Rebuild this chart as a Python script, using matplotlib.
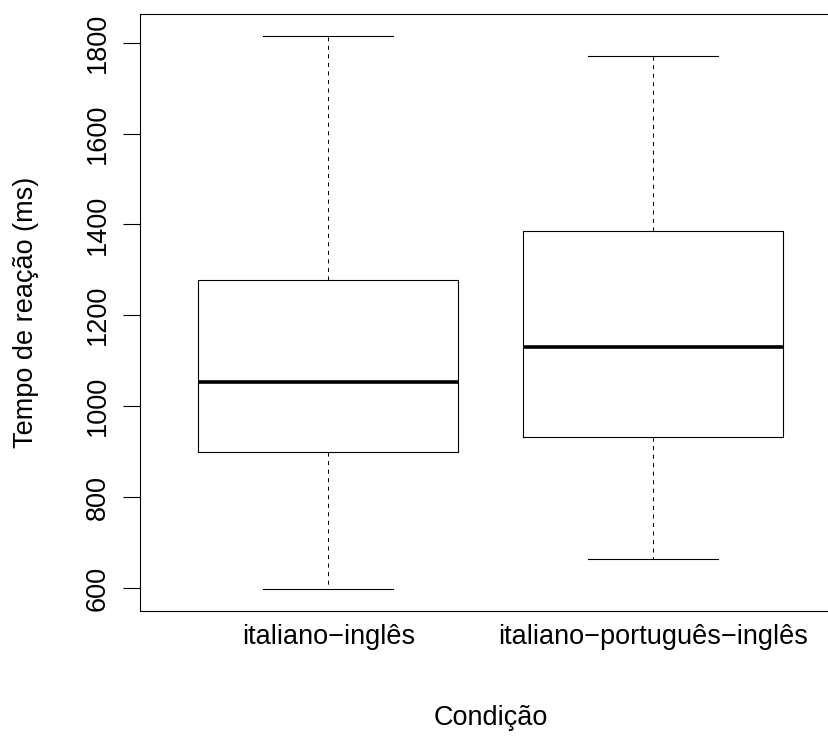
import matplotlib
matplotlib.use("Agg")
import matplotlib.pyplot as plt

# Data
categories = ["italiano\u2212inglês", "italiano\u2212português\u2212inglês"]
whislo = [598, 664]
q1 = [899, 932]
med = [1053, 1131]
q3 = [1278, 1386]
whishi = [1815, 1771]
yticks = [600, 800, 1000, 1200, 1400, 1600, 1800]

plt.rcParams['font.family'] = ['Liberation Sans', 'DejaVu Sans']

W, H = 829, 742
fig = plt.figure(figsize=(W / 100, H / 100), dpi=100)
left, right, top, bottom = 140, 841, 13.7, 611
ax = fig.add_axes([left / W, (H - bottom) / H, (right - left) / W, (bottom - top) / H])

stats = []
for i in range(len(categories)):
    stats.append(dict(label=categories[i], whislo=whislo[i], q1=q1[i], med=med[i],
                      q3=q3[i], whishi=whishi[i], fliers=[]))

positions = list(range(1, len(categories) + 1))
ax.bxp(stats, positions=positions, widths=0.8, capwidths=0.4, showfliers=False,
       boxprops=dict(color='black', lw=0.8),
       whiskerprops=dict(color='black', lw=0.75, linestyle=(0, (3.9, 4.3))),
       capprops=dict(color='black', lw=0.8),
       medianprops=dict(color='black', lw=2.6, solid_capstyle='butt'))

dmin, dmax = min(whislo), max(whishi)
ext = 0.04 * (dmax - dmin)
ax.set_ylim(dmin - ext, dmax + ext)
ax.set_xlim(0.42, 2.58)

ax.set_yticks(yticks)
ax.set_yticklabels([str(v) for v in yticks], rotation=90, va='center', fontsize=19.5)
ax.tick_params(axis='y', length=12.2, width=0.8, pad=9, color='black')
ax.set_xticks(positions)
ax.set_xticklabels(categories, fontsize=19.5)
ax.tick_params(axis='x', length=0, pad=9)

for s in ax.spines.values():
    s.set_linewidth(0.8)
    s.set_color('black')

ax.set_xlabel("Condição", fontsize=19.5, va='center')
ax.xaxis.set_label_coords(0.5, -(718 - bottom) / (bottom - top))
ax.set_ylabel("Tempo de reação (ms)", fontsize=19.5, va='center')
ax.yaxis.set_label_coords(-(left - 26) / (right - left), 0.5)

fig.savefig("out.png", dpi=100)
